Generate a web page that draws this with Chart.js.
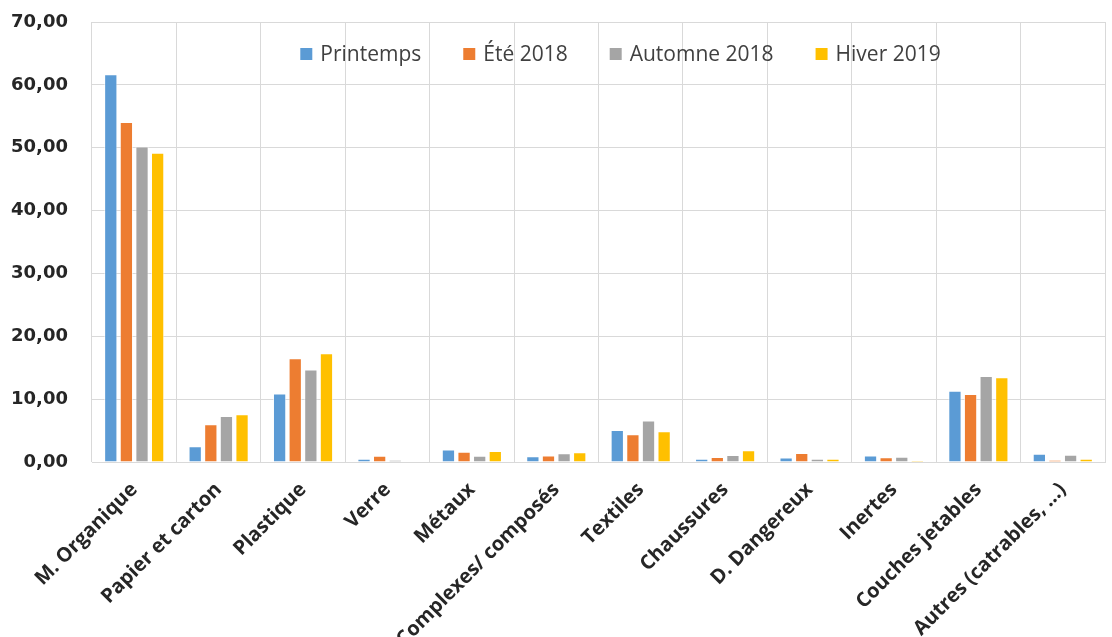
<!DOCTYPE html>
<html lang="fr">
  <head>
    <meta charset="UTF-8" />
    <title>Composition des déchets par saison</title>
    <script src="https://cdn.jsdelivr.net/npm/chart.js"></script>
    <style>
      * {
        margin: 0;
        padding: 0;
        box-sizing: border-box;
      }
      body {
        background: #fff;
      }
      .wrap {
        width: 1112px;
        height: 637px;
        position: relative;
      }
    </style>
  </head>
  <body>
    <div class="wrap">
      <canvas id="chart"></canvas>
    </div>

    <script>
      const categories = [
        "M. Organique",
        "Papier et carton",
        "Plastique",
        "Verre",
        "Métaux",
        "Complexes/ composés",
        "Textiles",
        "Chaussures",
        "D. Dangereux",
        "Inertes",
        "Couches jetables",
        "Autres (catrables, ...)",
      ];
      const printemps = [61.7, 2.5, 10.9, 0.5, 2.0, 0.9, 5.1, 0.5, 0.7, 1.05, 11.35, 1.3];
      const ete2018 = [54.1, 6.0, 16.5, 1.0, 1.65, 1.05, 4.4, 0.8, 1.45, 0.75, 10.8, 0.3];
      const automne2018 = [50.2, 7.3, 14.7, 0.3, 1.0, 1.4, 6.6, 1.1, 0.5, 0.85, 13.7, 1.15];
      const hiver2019 = [49.2, 7.6, 17.3, 0, 1.75, 1.55, 4.9, 1.85, 0.5, 0.2, 13.5, 0.5];
      const yTicks = [0, 10, 20, 30, 40, 50, 60, 70];

      const textColor = "#262626";
      const gridColor = "#d9d9d9";
      const noPad = () => ({ left: 0, top: 0, right: 0, bottom: 0 });

      function ds(label, data, color) {
        return {
          label: label,
          data: data,
          backgroundColor: color,
          borderColor: "rgba(255,255,255,0.6)",
          borderWidth: 1,
          categoryPercentage: 0.74,
          barPercentage: 0.85,
        };
      }

      // legend drawn inside the plot area, near the top
      const innerLegend = {
        id: "innerLegend",
        afterDraw(chart) {
          const c = chart.ctx;
          const area = chart.chartArea;
          const sets = chart.data.datasets;
          c.save();
          c.font = "21px 'Open Sans'";
          c.textBaseline = "middle";
          const box = 12, gap = 8, space = 42;
          let total = 0;
          const widths = sets.map((d) => c.measureText(d.label).width);
          widths.forEach((w) => (total += box + gap + w));
          total += space * (sets.length - 1);
          let x = (area.left + area.right) / 2 + 22 - total / 2;
          const y = area.top + 32;
          sets.forEach((d, i) => {
            c.fillStyle = d.backgroundColor;
            c.fillRect(x, y - box / 2, box, box);
            c.fillStyle = "#404040";
            c.fillText(d.label, x + box + gap, y + 1);
            x += box + gap + widths[i] + space;
          });
          c.restore();
        },
      };

      const ctx = document.getElementById("chart").getContext("2d");
      new Chart(ctx, {
        type: "bar",
        data: {
          labels: categories,
          datasets: [
            ds("Printemps", printemps, "#5b9bd5"),
            ds("Été 2018", ete2018, "#ed7d31"),
            ds("Automne 2018", automne2018, "#a5a5a5"),
            ds("Hiver 2019", hiver2019, "#ffc000"),
          ],
        },
        options: {
          responsive: true,
          maintainAspectRatio: false,
          animation: false,
          layout: { padding: { top: 22, right: 7, left: 10, bottom: 0 } },
          plugins: {
            tooltip: { enabled: false },
            legend: { display: false },
          },
          scales: {
            x: {
              grid: { color: gridColor, drawTicks: false },
              border: { color: gridColor },
              afterFit: (s) => {
                s.height = 175;
                s.paddingLeft = 0;
                s.paddingRight = 0;
                s.getPadding = noPad;
              },
              ticks: {
                color: textColor,
                font: { family: "Open Sans", size: 20, weight: "bold" },
                minRotation: 45,
                maxRotation: 45,
                padding: 16,
                autoSkip: false,
              },
            },
            y: {
              min: 0,
              max: 70,
              afterBuildTicks: (axis) => {
                axis.ticks = yTicks.map((v) => ({ value: v }));
              },
              afterFit: (s) => {
                s.width = 82;
                s.paddingTop = 0;
                s.paddingBottom = 0;
                s.getPadding = noPad;
              },
              grid: { color: gridColor, drawTicks: false },
              border: { display: false },
              ticks: {
                color: textColor,
                padding: 24,
                font: { family: "DejaVu Sans", size: 18, weight: "bold" },
                callback: (v) => v.toFixed(2).replace(".", ","),
              },
            },
          },
        },
        plugins: [innerLegend],
      });
    </script>
  </body>
</html>
